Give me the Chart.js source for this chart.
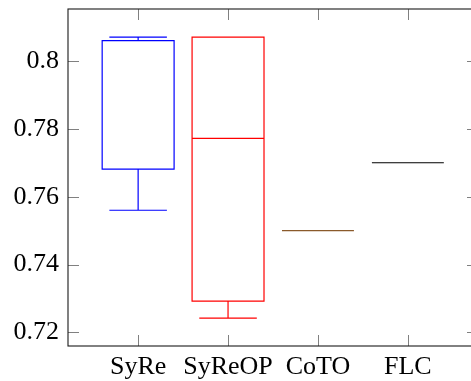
<!DOCTYPE html>
<html>
<head>
<meta charset="utf-8">
<script src="https://cdn.jsdelivr.net/npm/chart.js@4.4.1/dist/chart.umd.min.js"></script>
<style>
  html, body { margin: 0; padding: 0; overflow: hidden; background: #fff; }
</style>
</head>
<body>
<canvas id="chart" width="480" height="381"></canvas>
<script>
// box plot data
const categories = ["SyRe", "SyReOP", "CoTO", "FLC"];
const lowerWhisker = [0.756, 0.7242, 0.750, 0.770];
const lowerQuartile = [0.7681, 0.7292, 0.750, 0.770];
const median = [0.806, 0.7772, 0.750, 0.770];
const upperQuartile = [0.806, 0.807, 0.750, 0.770];
const upperWhisker = [0.807, 0.807, 0.750, 0.770];
const yTicks = [0.72, 0.74, 0.76, 0.78, 0.8];

const colors = ["#0000ff", "#ff0000", "#8a5a2b", "#000000"];
const boxHalf = 0.4;   // half box width in x units
const capHalf = 0.32;  // half whisker cap width
const tickLen = 11;

// draws the boxes and the frame using the chart scales
const boxPlot = {
    id: 'boxPlot',
    afterDraw(chart) {
        const ctx = chart.ctx;
        const xs = chart.scales.x, ys = chart.scales.y;
        const a = chart.chartArea;
        ctx.save();
        ctx.lineWidth = 1.2;
        categories.forEach((c, i) => {
            const pos = i + 1;
            const xl = xs.getPixelForValue(pos - boxHalf);
            const xr = xs.getPixelForValue(pos + boxHalf);
            const xc = xs.getPixelForValue(pos);
            const cl = xs.getPixelForValue(pos - capHalf);
            const cr = xs.getPixelForValue(pos + capHalf);
            const yq1 = ys.getPixelForValue(lowerQuartile[i]);
            const yq3 = ys.getPixelForValue(upperQuartile[i]);
            const ym = ys.getPixelForValue(median[i]);
            const ylw = ys.getPixelForValue(lowerWhisker[i]);
            const yuw = ys.getPixelForValue(upperWhisker[i]);
            ctx.strokeStyle = colors[i];
            ctx.beginPath();
            // whiskers
            ctx.moveTo(xc, yq1); ctx.lineTo(xc, ylw);
            ctx.moveTo(cl, ylw); ctx.lineTo(cr, ylw);
            ctx.moveTo(xc, yq3); ctx.lineTo(xc, yuw);
            ctx.moveTo(cl, yuw); ctx.lineTo(cr, yuw);
            // box
            ctx.rect(xl, yq3, xr - xl, yq1 - yq3);
            // median
            ctx.moveTo(xl, ym); ctx.lineTo(xr, ym);
            ctx.stroke();
        });

        // inward ticks
        ctx.strokeStyle = '#808080';
        ctx.lineWidth = 1;
        ctx.beginPath();
        yTicks.forEach(v => {
            const y = Math.round(ys.getPixelForValue(v)) + 0.5;
            ctx.moveTo(a.left, y); ctx.lineTo(a.left + tickLen, y);
            ctx.moveTo(a.right, y); ctx.lineTo(a.right - tickLen, y);
        });
        categories.forEach((c, i) => {
            const x = Math.round(xs.getPixelForValue(i + 1)) + 0.5;
            ctx.moveTo(x, a.bottom); ctx.lineTo(x, a.bottom - tickLen);
            ctx.moveTo(x, a.top); ctx.lineTo(x, a.top + tickLen);
        });
        ctx.stroke();

        // frame
        ctx.strokeStyle = '#1a1a1a';
        ctx.lineWidth = 1.1;
        ctx.strokeRect(a.left, a.top, a.right - a.left, a.bottom - a.top);
        ctx.restore();
    }
};

const font = { family: "'Liberation Serif', 'DejaVu Serif', serif", size: 26 };

function noPad(s) {
    s.paddingTop = 0; s.paddingBottom = 0;
    s.paddingLeft = 0; s.paddingRight = 0;
}

new Chart(document.getElementById('chart'), {
    type: 'scatter',
    data: { datasets: [{ data: [], pointRadius: 0 }] },
    plugins: [boxPlot],
    options: {
        responsive: false,
        animation: false,
        layout: { padding: { top: 9, right: 2, left: 0, bottom: 0 } },
        plugins: { legend: { display: false }, tooltip: { enabled: false } },
        scales: {
            x: {
                type: 'linear',
                min: 0.22,
                max: 4.78,
                grid: { display: false, drawTicks: false },
                border: { display: false },
                afterFit: s => { s.height = 35; noPad(s); },
                afterBuildTicks: s => { s.ticks = categories.map((c, i) => ({ value: i + 1 })); },
                ticks: {
                    color: '#000',
                    font: font,
                    padding: 6,
                    maxRotation: 0,
                    autoSkip: false,
                    callback: v => categories[v - 1]
                }
            },
            y: {
                type: 'linear',
                min: 0.716,
                max: 0.8153,
                grid: { display: false, drawTicks: false },
                border: { display: false },
                afterFit: s => { s.width = 68; noPad(s); },
                afterBuildTicks: s => { s.ticks = yTicks.map(v => ({ value: v })); },
                ticks: {
                    color: '#000',
                    font: font,
                    padding: 9,
                    autoSkip: false,
                    callback: v => String(v)
                }
            }
        }
    }
});
</script>
</body>
</html>
